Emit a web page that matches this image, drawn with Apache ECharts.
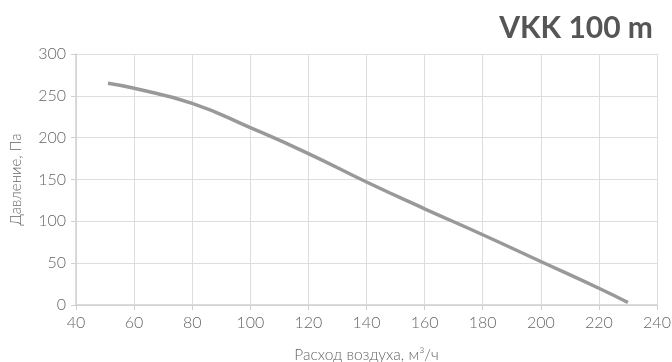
<!DOCTYPE html>
<html>
<head>
<meta charset="utf-8">
<script src="https://cdn.jsdelivr.net/npm/echarts@6/dist/echarts.min.js"></script>
<style>
  html, body { margin: 0; padding: 0; background: #fff; }
  #chart { width: 672px; height: 362px; }
</style>
</head>
<body>
<div id="chart"></div>
<script>
// Fan curve: airflow (m3/h) vs pressure (Pa)
const airflow  = [51, 60, 80, 100, 120, 140, 160, 180, 200, 220, 230];
const pressure = [265, 259, 241, 212, 181, 147, 115, 84, 52, 20, 3];
const chartTitle = 'VKK 100 m';
const xAxisName = 'Расход воздуха, м³/ч';
const yAxisName = 'Давление, Па';

const points = airflow.map((x, i) => [x, pressure[i]]);
const font = 'Lato, "Open Sans", sans-serif';

const chart = echarts.init(document.getElementById('chart'), null, { renderer: 'canvas' });
chart.setOption({
  animation: false,
  title: {
    text: chartTitle,
    right: 14,
    top: 8,
    textStyle: { fontFamily: font, fontSize: 30, fontWeight: 'bold', color: '#555' }
  },
  grid: { left: 76, right: 15, top: 54, bottom: 57, outerBoundsMode: 'none', containLabel: false },
  xAxis: {
    type: 'value',
    min: 40, max: 240, interval: 20,
    name: xAxisName,
    nameLocation: 'middle',
    nameGap: 42,
    nameTextStyle: { fontFamily: font, fontSize: 15.5, fontWeight: 300, color: '#666' },
    axisLine: { lineStyle: { color: '#d0d0d0', width: 1.5 } },
    axisTick: { show: true, length: 5, lineStyle: { color: '#d0d0d0' } },
    axisLabel: { fontFamily: font, fontSize: 16, fontWeight: 300, color: '#666', margin: 10 },
    splitLine: { show: true, lineStyle: { color: '#dedede', width: 1 } }
  },
  yAxis: {
    type: 'value',
    min: 0, max: 300, interval: 50,
    name: yAxisName,
    nameLocation: 'middle',
    nameGap: 52,
    nameTextStyle: { fontFamily: font, fontSize: 15, fontWeight: 300, color: '#666' },
    axisLine: { show: true, lineStyle: { color: '#d0d0d0', width: 1.5 } },
    axisTick: { show: true, length: 5, lineStyle: { color: '#d0d0d0' } },
    axisLabel: { fontFamily: font, fontSize: 16, fontWeight: 300, color: '#666', margin: 10 },
    splitLine: { show: true, lineStyle: { color: '#dedede', width: 1 } }
  },
  series: [{
    type: 'line',
    data: points,
    smooth: 0.5,
    showSymbol: false,
    lineStyle: { color: '#999', width: 3.5 }
  }]
});
</script>
</body>
</html>
